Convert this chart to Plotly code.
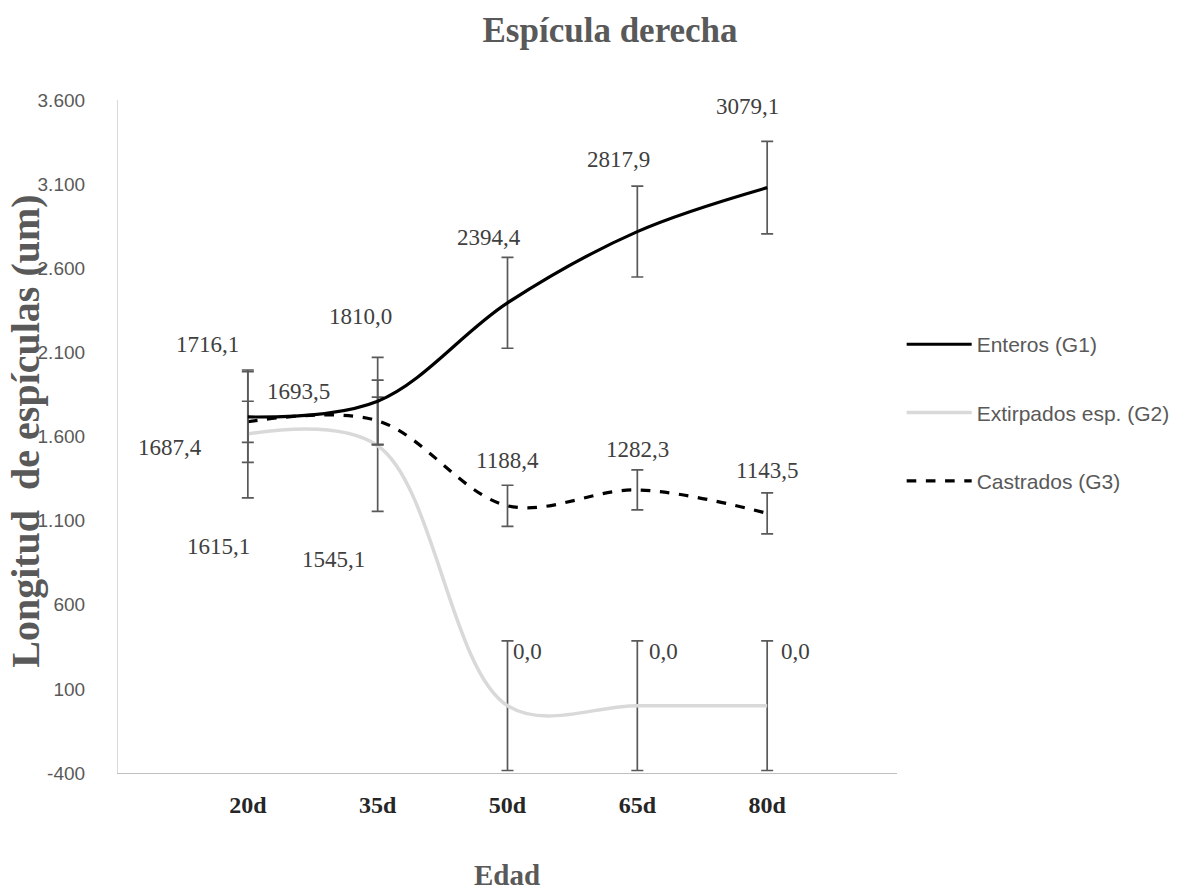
import plotly.graph_objects as go

# Ages (x categories)
edades = ["20d", "35d", "50d", "65d", "80d"]

# Mean right spicule length per group (um)
enteros = [1716.1, 1810.0, 2394.4, 2817.9, 3079.1]
extirpados = [1615.1, 1545.1, 0.0, 0.0, 0.0]
castrados = [1687.4, 1693.5, 1188.4, 1282.3, 1143.5]

# Error bar half-widths (um)
err_enteros = [270, 260, 270, 270, 275]
err_extirpados = [380, 390, 385, 385, 385]
err_castrados = [122, 140, 122, 119, 122]

# Y axis ticks
y_ticks = [-400, 100, 600, 1100, 1600, 2100, 2600, 3100, 3600]

# Per-label pixel offsets (dx, dy with dy positive = up)
off_enteros = [(-40, 72), (-17, 85), (-19, 65), (-19, 72), (-20, 81)]
off_extirpados = [(-29, -113), (-44, -114), (20, 54), (26, 54), (28, 54)]
off_castrados = [(-78, -26), (-79, 29), (0, 45), (0, 40), (0, 43)]

SERIF = "Liberation Serif, Times New Roman, serif"
SANS = "Liberation Sans, Arial, sans-serif"
GRAY = "#595959"
ERR = "#595959"


def fmt_es(v, dec=1):
    # decimal comma, no thousands grouping
    return f"{v:.{dec}f}".replace(".", ",")


def fmt_tick(v):
    s = f"{abs(v):,d}".replace(",", ".")
    return ("-" if v < 0 else "") + s


xi = list(range(len(edades)))

fig = go.Figure()

fig.add_trace(go.Scatter(
    x=xi, y=extirpados, name="Extirpados esp. (G2)", mode="lines",
    legendgroup="g2", legendrank=2,
    line=dict(color="#d9d9d9", width=3.5, shape="spline", smoothing=1.0),
    error_y=dict(type="data", array=err_extirpados, color=ERR, thickness=1.7, width=6),
))
fig.add_trace(go.Scatter(
    x=xi, y=castrados, name="Castrados (G3)", mode="lines",
    legendgroup="g3", legendrank=3,
    line=dict(color="#000000", width=3.2, dash="dash", shape="spline", smoothing=1.0),
    error_y=dict(type="data", array=err_castrados, color=ERR, thickness=1.7, width=6),
))
fig.add_trace(go.Scatter(
    x=xi, y=enteros, name="Enteros (G1)", mode="lines",
    legendgroup="g1", legendrank=1,
    line=dict(color="#000000", width=3.2, shape="spline", smoothing=1.0),
    error_y=dict(type="data", array=err_enteros, color=ERR, thickness=1.7, width=6),
))

annotations = []
for vals, offs in ((enteros, off_enteros), (extirpados, off_extirpados), (castrados, off_castrados)):
    for i, (v, (dx, dy)) in enumerate(zip(vals, offs)):
        annotations.append(dict(
            x=i, y=v, xref="x", yref="y", text=fmt_es(v), showarrow=False,
            xanchor="center", yanchor="middle", xshift=dx, yshift=dy,
            font=dict(family=SERIF, size=23, color="#404040"),
        ))

# Axis titles
annotations.append(dict(
    x=0, y=0.507, xref="paper", yref="paper", xshift=-92,
    text="<b>Longitud  de espículas (um)</b>", textangle=-90, showarrow=False,
    xanchor="center", yanchor="middle",
    font=dict(family=SERIF, size=40, color=GRAY),
))
annotations.append(dict(
    x=0.4994, y=-0.1516, xref="paper", yref="paper",
    text="<b>Edad</b>", showarrow=False, xanchor="center", yanchor="middle",
    font=dict(family=SERIF, size=29, color=GRAY),
))

fig.update_layout(
    width=1195, height=894,
    margin=dict(l=118, r=298, t=100, b=121),
    paper_bgcolor="white", plot_bgcolor="white",
    title=dict(
        text="<b>Espícula derecha</b>", x=0.5105, xanchor="center",
        y=1 - 30 / 894, yanchor="middle", yref="container",
        font=dict(family=SERIF, size=35, color=GRAY),
    ),
    xaxis=dict(
        range=[-1, 5], tickmode="array", tickvals=xi,
        ticktext=[f"<b>{e}</b>" for e in edades],
        showgrid=False, zeroline=False, showline=True, automargin=False,
        linecolor="#bfbfbf", linewidth=1.2, ticks="",
        ticklabelstandoff=10,
        tickfont=dict(family=SERIF, size=24, color="#262626"),
    ),
    yaxis=dict(
        range=[-400, 3600], tickmode="array", tickvals=y_ticks,
        ticktext=[fmt_tick(t) for t in y_ticks],
        showgrid=False, zeroline=False, showline=True, automargin=False,
        linecolor="#d9d9d9", linewidth=1.2, ticks="",
        ticklabelstandoff=28,
        tickfont=dict(family=SANS, size=19, color=GRAY),
    ),
    legend=dict(
        x=1.006, y=0.667, xanchor="left", yanchor="top",
        traceorder="grouped", tracegroupgap=38, itemwidth=65,
        font=dict(family=SANS, size=21, color=GRAY),
        bgcolor="rgba(0,0,0,0)",
    ),
    annotations=annotations,
    showlegend=True,
)

fig.write_html("out.html")
